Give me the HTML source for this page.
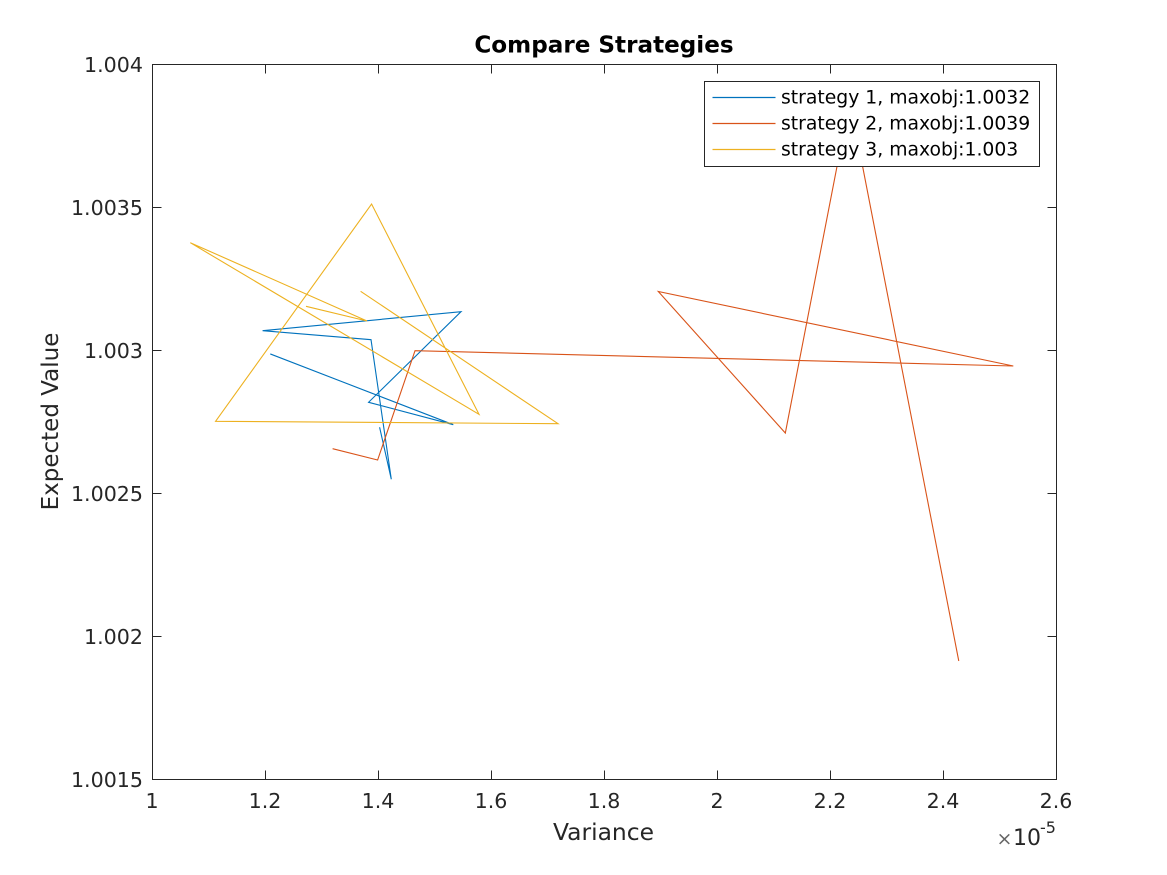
<!DOCTYPE html>
<html>
<head>
<meta charset="utf-8">
<title>Compare Strategies</title>
<style>
html,body{margin:0;padding:0;background:#fff;}
svg{display:block;font-family:"DejaVu Sans",sans-serif;}
</style>
</head>
<body>
<svg id="chart" xmlns="http://www.w3.org/2000/svg" width="1167" height="875" viewBox="0 0 1167 875">
  <rect x="0" y="0" width="1167" height="875" fill="#ffffff"/>
  <g id="series"></g>
  <g id="axes"></g>
  <text x="604" y="52.5" font-size="23.1" font-weight="bold" fill="#000" text-anchor="middle">Compare Strategies</text>
  <text x="603.5" y="840" font-size="23.4" fill="#262626" text-anchor="middle">Variance</text>
  <text transform="translate(58 421.5) rotate(-90)" font-size="23" fill="#262626" text-anchor="middle">Expected Value</text>
  <g fill="#262626">
    <text x="996.5" y="845" font-size="19" fill="#666">×</text>
    <text x="1013" y="845" font-size="22">10</text>
    <text x="1040" y="833" font-size="16">-5</text>
  </g>
  <g id="legend"></g>
</svg>
<script>
var xTicks = [1, 1.2, 1.4, 1.6, 1.8, 2, 2.2, 2.4, 2.6];
var xTickLabels = ["1", "1.2", "1.4", "1.6", "1.8", "2", "2.2", "2.4", "2.6"];
var yTicks = [1.0015, 1.002, 1.0025, 1.003, 1.0035, 1.004];
var yTickLabels = ["1.0015", "1.002", "1.0025", "1.003", "1.0035", "1.004"];
var xDomain = [1, 2.6];
var yDomain = [1.0015, 1.004];

var strategy1X = [1.2088, 1.5327, 1.3828, 1.5464, 1.1952, 1.3871, 1.4230, 1.4023];
var strategy1Y = [1.002988, 1.0027406, 1.0028189, 1.0031357, 1.0030692, 1.0030378, 1.0025497, 1.0027315];
var strategy2X = [1.3191, 1.3988, 1.4650, 2.5239, 1.8956, 2.1204, 2.2345, 2.4274];
var strategy2Y = [1.0026566, 1.0026171, 1.0029993, 1.0029458, 1.0032063, 1.0027115, 1.0038741, 1.0019143];
var strategy3X = [1.3687, 1.7181, 1.1120, 1.3881, 1.5782, 1.0673, 1.3800, 1.2720];
var strategy3Y = [1.003207, 1.002744, 1.0027524, 1.0035122, 1.0027769, 1.0033769, 1.0031031, 1.0031545];
var legendLabels = ["strategy 1, maxobj:1.0032", "strategy 2, maxobj:1.0039", "strategy 3, maxobj:1.003"];

var NS = "http://www.w3.org/2000/svg";
var plot = { left: 152.3, right: 1056.3, top: 64.5, bottom: 779.5 };
var ink = "#262626";
var colors = ["#0072BD", "#D95319", "#EDB120"];

function xScale(v) {
  return plot.left + (v - xDomain[0]) / (xDomain[1] - xDomain[0]) * (plot.right - plot.left);
}
function yScale(v) {
  return plot.bottom - (v - yDomain[0]) / (yDomain[1] - yDomain[0]) * (plot.bottom - plot.top);
}
function make(tag, attrs, parent) {
  var el = document.createElementNS(NS, tag);
  for (var k in attrs) { el.setAttribute(k, attrs[k]); }
  parent.appendChild(el);
  return el;
}

var axes = document.getElementById("axes");
var seriesGroup = document.getElementById("series");
var legend = document.getElementById("legend");

var frameLeft = Math.round(plot.left) + 0.5;
var frameRight = Math.round(plot.right) + 0.5;

var frame = make("rect", { x: frameLeft, y: plot.top, width: frameRight - frameLeft, height: plot.bottom - plot.top, fill: "none", stroke: ink, "stroke-width": 1 }, axes);



xTicks.forEach(function (t, i) {
  var px = Math.round(xScale(t)) + 0.5;
  var tb = make("line", { x1: px, x2: px, y1: plot.bottom, y2: plot.bottom - 9, stroke: ink, "stroke-width": 1 }, axes);
  
  
  var tt = make("line", { x1: px, x2: px, y1: plot.top, y2: plot.top + 9, stroke: ink, "stroke-width": 1 }, axes);
  
  
  var lb = make("text", { x: px - 0.5, y: 808, "font-size": 20.6, fill: ink, "text-anchor": "middle" }, axes);
  
  
  lb.textContent = xTickLabels[i];
});

yTicks.forEach(function (t, i) {
  var py = Math.round(yScale(t) - 0.5) + 0.5;
  var tl = make("line", { x1: frameLeft, x2: frameLeft + 9, y1: py, y2: py, stroke: ink, "stroke-width": 1 }, axes);
  
  
  var tr = make("line", { x1: frameRight, x2: frameRight - 9, y1: py, y2: py, stroke: ink, "stroke-width": 1 }, axes);
  
  
  var lb = make("text", { x: 143, y: py + 7.5, "font-size": 20.6, fill: ink, "text-anchor": "end" }, axes);
  
  
  lb.textContent = yTickLabels[i];
});

function drawSeries(xs, ys, color, name) {
  var pts = xs.map(function (x, i) {
    return xScale(x).toFixed(2) + "," + yScale(ys[i]).toFixed(2);
  }).join(" ");
  var line = make("polyline", { points: pts, fill: "none", stroke: color, "stroke-width": 1.1, "stroke-linejoin": "miter" }, seriesGroup);
  
  
}
drawSeries(strategy1X, strategy1Y, colors[0], "strategy-1-line");
drawSeries(strategy2X, strategy2Y, colors[1], "strategy-2-line");
drawSeries(strategy3X, strategy3Y, colors[2], "strategy-3-line");

var legendBox = make("rect", { x: 704.5, y: 81.5, width: 335, height: 85, fill: "#ffffff", stroke: ink, "stroke-width": 1 }, legend);


var legendRowY = [97.5, 123.5, 149.5];
legendLabels.forEach(function (label, i) {
  var sw = make("line", { x1: 712.5, x2: 775.5, y1: legendRowY[i], y2: legendRowY[i], stroke: colors[i], "stroke-width": 1.2 }, legend);
  
  
  var tx = make("text", { x: 781, y: legendRowY[i] + 6, "font-size": 18.8, fill: "#000" }, legend);
  
  
  tx.textContent = label;
});
</script>
</body>
</html>
